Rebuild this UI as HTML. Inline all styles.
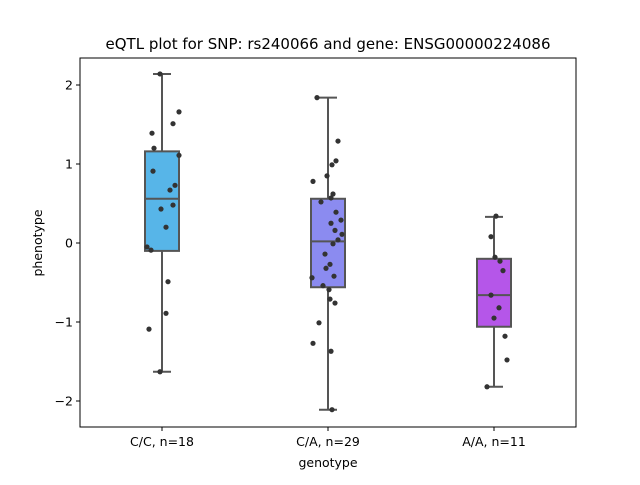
<!DOCTYPE html>
<html><head><meta charset="utf-8"><style>
body{margin:0;background:#fff;font-family:"Liberation Sans","DejaVu Sans",sans-serif}
svg text{font-family:"DejaVu Sans","Liberation Sans",sans-serif}
</style></head><body>
<svg id="chart" width="640" height="480" xmlns="http://www.w3.org/2000/svg"></svg>
<script>
const categories=["C/C, n=18","C/A, n=29","A/A, n=11"];
const colors=["#57b5e8","#8b8bf0","#b556e9"];
const q1=[-0.10,-0.56,-1.06];
const medians=[0.56,0.02,-0.66];
const q3=[1.16,0.56,-0.20];
const whiskLo=[-1.63,-2.11,-1.82];
const whiskHi=[2.14,1.84,0.33];
const pts0=[2.14,1.66,1.51,1.39,1.20,1.11,0.91,0.73,0.67,0.48,0.43,0.20,-0.05,-0.09,-0.49,-0.89,-1.09,-1.63];
const jit0=[-2,17,11,-10,-8,17,-9,13,8,11,-1,4,-15,-11,6,4,-13,-2];
const pts1=[1.84,1.29,1.04,0.99,0.85,0.78,0.62,0.57,0.52,0.39,0.29,0.25,0.16,0.11,0.04,-0.01,-0.14,-0.27,-0.32,-0.44,-0.42,-0.54,-0.59,-0.71,-0.76,-1.01,-1.27,-1.37,-2.11];
const jit1=[-11,10,8,4,-1,-15,5,3,-7,8,13,3,7,14,10,5,-3,2,-2,-16,6,-5,1,2,7,-9,-15,3,4];
const pts2=[0.34,0.08,-0.18,-0.23,-0.35,-0.66,-0.82,-0.95,-1.18,-1.48,-1.82];
const jit2=[2,-3,1,6,9,-3,5,0,11,13,-7];
const points=[pts0,pts1,pts2], jitters=[jit0,jit1,jit2];
const yTicks=[-2,-1,0,1,2];
const L=80,R=576,T=58,B=427;
const y=v=>243-v*79;
const x=i=>162+i*166;
const svg=document.getElementById('chart');
const NS="http://www.w3.org/2000/svg";
function mk(t,a,txt){const e=document.createElementNS(NS,t);for(const k in a)e.setAttribute(k,a[k]);if(txt!==undefined)e.textContent=txt;svg.appendChild(e);return e;}
let e;
e=mk('rect',{x:L,y:T,width:R-L,height:B-T,fill:'none',stroke:'#000','stroke-width':1});


categories.forEach((c,i)=>{
  const cx=x(i),g='#555';
  e=mk('line',{x1:cx,x2:cx,y1:y(q3[i]),y2:y(whiskHi[i]),stroke:g,'stroke-width':2});
  
  
  e=mk('line',{x1:cx,x2:cx,y1:y(q1[i]),y2:y(whiskLo[i]),stroke:g,'stroke-width':2});
  
  
  e=mk('line',{x1:cx-9,x2:cx+9,y1:y(whiskHi[i]),y2:y(whiskHi[i]),stroke:g,'stroke-width':2});
  
  
  e=mk('line',{x1:cx-9,x2:cx+9,y1:y(whiskLo[i]),y2:y(whiskLo[i]),stroke:g,'stroke-width':2});
  
  
  e=mk('rect',{x:cx-17,y:y(q3[i]),width:34,height:y(q1[i])-y(q3[i]),fill:colors[i],stroke:g,'stroke-width':2});
  
  
  e=mk('line',{x1:cx-17,x2:cx+17,y1:y(medians[i]),y2:y(medians[i]),stroke:g,'stroke-width':2});
  
  
  points[i].forEach((v,j)=>{
    e=mk('circle',{cx:cx+jitters[i][j],cy:y(v),r:2.6,fill:'#333'});
    
    
  });
  e=mk('line',{x1:cx,x2:cx,y1:B,y2:B+4,stroke:'#000'});
  
  
  e=mk('text',{x:cx,y:B+19,'text-anchor':'middle','font-size':12.5},c);
  
  
});
yTicks.forEach(t=>{
  e=mk('line',{x1:L-4,x2:L,y1:y(t),y2:y(t),stroke:'#000'});
  
  
  e=mk('text',{x:L-7,y:y(t)+4.5,'text-anchor':'end','font-size':12.5},t<0?'\u2212'+(-t):String(t));
  
  
});
e=mk('text',{x:328,y:467,'text-anchor':'middle','font-size':12.5},'genotype');


e=mk('text',{x:42,y:243,'text-anchor':'middle','font-size':12.5,transform:'rotate(-90 42 243)'},'phenotype');


e=mk('text',{x:328,y:49,'text-anchor':'middle','font-size':15},'eQTL plot for SNP: rs240066 and gene: ENSG00000224086');


</script>
</body></html>
